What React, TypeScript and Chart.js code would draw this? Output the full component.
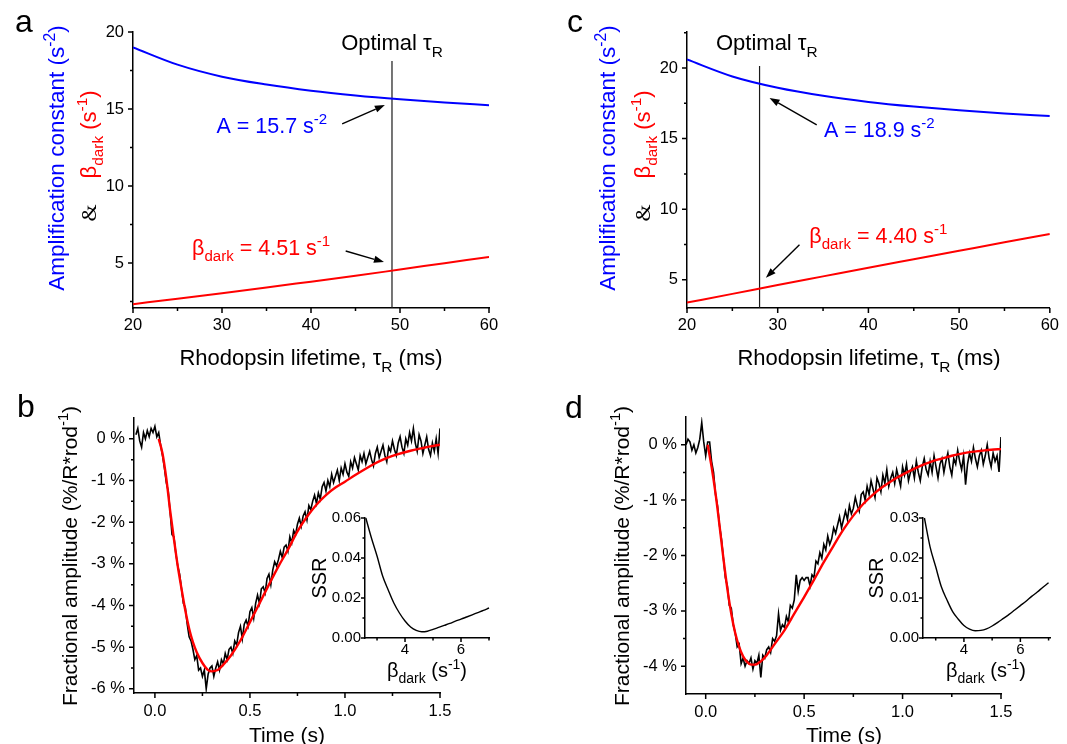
import React, { useEffect, useRef } from "react";
import { Chart, registerables } from "chart.js";
Chart.register(...registerables);

const W = 1067;
const H = 744;
const FONT = '"Liberation Sans", Arial, Helvetica, sans-serif';
const SERIF = '"Liberation Serif", "Times New Roman", serif';
const BLUE = "#0000ff";
const RED = "#ff0000";
const BLACK = "#000000";
const YW = 60;
const XH = 40;

// ---------- Panel a / c : amplification & beta_dark vs rhodopsin lifetime ----------
const TAU = [20, 25, 30, 35, 40, 45, 50, 55, 60];
const A_AMP = [19.0, 17.88, 17.1, 16.59, 16.19, 15.88, 15.63, 15.42, 15.25];
const A_BETA = [2.33, 2.68, 3.04, 3.41, 3.79, 4.17, 4.58, 4.99, 5.4];
const A_OPT = [49.1];
const C_AMP = [20.6, 19.4, 18.6, 18.03, 17.6, 17.27, 17.0, 16.78, 16.6];
const C_BETA = [3.38, 4.0, 4.63, 5.24, 5.85, 6.45, 7.05, 7.65, 8.24];
const C_OPT = [28];
const TAU_TICKS = [20, 30, 40, 50, 60];
const TAU_MINOR = [25, 35, 45, 55];
const AC_Y_TICKS = [5, 10, 15, 20];
const A_Y_MINOR = [2.5, 7.5, 12.5, 17.5];
const C_Y_MINOR = [7.5, 12.5, 17.5, 22.5];

// ---------- Panel b / d : flash responses ----------
const TIME = [
  -0.1, -0.09, -0.08, -0.07, -0.06, -0.05, -0.04, -0.03, -0.02, -0.01,
  0.0, 0.01, 0.02, 0.03, 0.04, 0.05, 0.06, 0.07, 0.08, 0.09,
  0.1, 0.11, 0.12, 0.13, 0.14, 0.15, 0.16, 0.17, 0.18, 0.19,
  0.2, 0.21, 0.22, 0.23, 0.24, 0.25, 0.26, 0.27, 0.28, 0.29,
  0.3, 0.31, 0.32, 0.33, 0.34, 0.35, 0.36, 0.37, 0.38, 0.39,
  0.4, 0.41, 0.42, 0.43, 0.44, 0.45, 0.46, 0.47, 0.48, 0.49,
  0.5, 0.51, 0.52, 0.53, 0.54, 0.55, 0.56, 0.57, 0.58, 0.59,
  0.6, 0.61, 0.62, 0.63, 0.64, 0.65, 0.66, 0.67, 0.68, 0.69,
  0.7, 0.71, 0.72, 0.73, 0.74, 0.75, 0.76, 0.77, 0.78, 0.79,
  0.8, 0.81, 0.82, 0.83, 0.84, 0.85, 0.86, 0.87, 0.88, 0.89,
  0.9, 0.91, 0.92, 0.93, 0.94, 0.95, 0.96, 0.97, 0.98, 0.99,
  1.0, 1.01, 1.02, 1.03, 1.04, 1.05, 1.06, 1.07, 1.08, 1.09,
  1.1, 1.11, 1.12, 1.13, 1.14, 1.15, 1.16, 1.17, 1.18, 1.19,
  1.2, 1.21, 1.22, 1.23, 1.24, 1.25, 1.26, 1.27, 1.28, 1.29,
  1.3, 1.31, 1.32, 1.33, 1.34, 1.35, 1.36, 1.37, 1.38, 1.39,
  1.4, 1.41, 1.42, 1.43, 1.44, 1.45, 1.46, 1.47, 1.48, 1.49,
  1.5,
];
const B_TRACE = [
  0.1, 0.25, -0.05, -0.2, 0.15, 0.0, 0.2, 0.05, 0.25, 0.15,
  0.3, 0.05, 0.15, -0.15, -0.4, -0.7, -1.05, -1.25, -1.75, -2.3,
  -2.35, -2.75, -3.05, -3.25, -3.6, -3.95, -4.05, -4.45, -4.75, -4.85,
  -5.05, -5.3, -5.2, -5.55, -5.5, -5.7, -5.55, -6.0, -5.65, -5.5,
  -5.45, -5.7, -5.5, -5.35, -5.55, -5.3, -5.4, -5.15, -5.3, -5.05,
  -5.0, -5.15, -4.85, -4.95, -4.65, -4.5, -4.8, -4.45, -4.35, -4.5,
  -4.15, -4.05, -4.3, -3.95, -3.75, -3.95, -3.6, -3.55, -3.7, -3.35,
  -3.25, -3.5, -3.15, -2.95, -3.05, -2.9, -2.7, -2.85, -2.6, -2.55,
  -2.7, -2.35, -2.5, -2.2, -2.3, -2.05, -1.9, -2.1, -1.85, -1.75,
  -1.95, -1.6, -1.7, -1.5, -1.35, -1.55, -1.3, -1.45, -1.15, -1.05,
  -1.25, -1.0, -1.15, -0.85, -1.05, -0.9, -0.75, -1.0, -0.7, -0.85,
  -0.6, -0.8, -0.9, -0.55, -0.7, -0.45, -0.6, -0.75, -0.4, -0.55,
  -0.35, -0.6, -0.45, -0.3, -0.5, -0.65, -0.35, -0.2, -0.45, -0.3,
  -0.15, -0.4, -0.55, -0.2, -0.3, -0.05, -0.25, -0.4, -0.1, 0.05,
  -0.2, -0.35, 0.0, -0.15, 0.15, -0.05, 0.25, -0.1, -0.3, 0.1,
  -0.05, -0.35, -0.15, 0.05, -0.25, -0.4, -0.1, -0.3, 0.0, -0.35,
  0.25,
];
const D_TRACE = [
  0.0, 0.1, 0.05, -0.1, 0.0, -0.15, -0.05, 0.1, 0.4, 0.05,
  -0.2, 0.05, 0.05, -0.3, -0.5, -0.9, -1.1, -1.45, -1.7, -2.05,
  -2.4, -2.55, -2.9, -2.95, -3.25, -3.4, -3.65, -3.6, -3.95, -3.85,
  -4.0, -3.9, -3.95, -3.85, -4.05, -3.9, -3.95, -3.8, -4.2, -3.8,
  -3.85, -3.7, -3.65, -3.75, -3.5, -3.55, -3.45, -3.05, -3.35, -3.25,
  -3.3, -3.1, -3.2, -2.9, -2.95, -2.8, -2.35, -2.65, -2.45, -2.4,
  -2.45, -2.4, -2.4, -2.55, -2.35, -2.4, -2.1, -2.15, -1.95, -2.05,
  -1.8, -1.9, -1.65, -1.8, -1.7, -1.5, -1.6, -1.45, -1.3, -1.5,
  -1.35, -1.2, -1.35, -1.1, -1.25, -1.15, -0.95, -1.1, -1.2, -0.9,
  -0.85, -1.0, -0.75, -0.9, -0.65, -0.8, -0.95, -0.6, -0.7, -0.85,
  -0.55, -0.7, -0.45, -0.75, -0.6, -0.5, -0.7, -0.45, -0.6, -0.75,
  -0.4, -0.55, -0.35, -0.65, -0.5, -0.4, -0.6, -0.3, -0.5, -0.65,
  -0.4, -0.25, -0.45, -0.55, -0.3, -0.5, -0.2, -0.4, -0.6, -0.35,
  -0.25, -0.5, -0.3, -0.15, -0.4, -0.55, -0.25, -0.35, -0.1, -0.3,
  -0.45, -0.2, -0.72, -0.35, -0.15, -0.3, -0.05, -0.25, -0.4, -0.2,
  -0.1, -0.35, -0.2, 0.0, -0.25, -0.4, -0.15, -0.3, -0.2, -0.49,
  0.14,
];
const B_FIT_T = [
  0.02, 0.04, 0.06, 0.08, 0.1, 0.12, 0.14, 0.16, 0.18, 0.2, 0.22, 0.25, 0.28, 0.3, 0.33, 0.36, 0.4,
  0.45, 0.5, 0.55, 0.6, 0.65, 0.7, 0.75, 0.8, 0.85, 0.9, 0.95, 1.0, 1.05, 1.1, 1.15, 1.2, 1.25, 1.3,
  1.35, 1.4, 1.45, 1.5,
];
const B_FIT_V = [
  0, -0.35, -0.95, -1.72, -2.4, -3.05, -3.6, -4.12, -4.55, -4.88, -5.12, -5.38, -5.55, -5.58, -5.55,
  -5.42, -5.2, -4.84, -4.4, -3.95, -3.5, -3.06, -2.66, -2.22, -1.87, -1.58, -1.35, -1.17, -1.03, -0.88,
  -0.74, -0.61, -0.5, -0.41, -0.34, -0.28, -0.23, -0.18, -0.14,
];
const D_FIT_T = [
  0.01, 0.03, 0.05, 0.07, 0.09, 0.11, 0.13, 0.15, 0.17, 0.19, 0.21, 0.23, 0.25, 0.28, 0.31, 0.35,
  0.4, 0.45, 0.5, 0.55, 0.6, 0.65, 0.7, 0.75, 0.8, 0.85, 0.9, 0.95, 1.0, 1.05, 1.1, 1.15, 1.2, 1.25,
  1.3, 1.35, 1.4, 1.45, 1.5,
];
const D_FIT_V = [
  0, -0.4, -0.88, -1.45, -2.05, -2.6, -3.05, -3.4, -3.65, -3.82, -3.92, -3.97, -3.97, -3.91, -3.8,
  -3.6, -3.35, -3.05, -2.75, -2.44, -2.12, -1.82, -1.53, -1.28, -1.07, -0.9, -0.76, -0.64, -0.54,
  -0.45, -0.37, -0.3, -0.25, -0.2, -0.16, -0.13, -0.11, -0.09, -0.08,
];
const T_TICKS = [0, 0.5, 1.0, 1.5];
const T_MINOR = [0.25, 0.75, 1.25];
const B_Y_TICKS = [0, -1, -2, -3, -4, -5, -6];
const B_Y_MINOR = [-0.5, -1.5, -2.5, -3.5, -4.5, -5.5];
const D_Y_TICKS = [0, -1, -2, -3, -4];
const D_Y_MINOR = [-0.5, -1.5, -2.5, -3.5];

// ---------- Insets : SSR vs beta_dark ----------
const SSR_BETA = [2.6, 2.8, 3.0, 3.2, 3.4, 3.6, 3.8, 4.0, 4.2, 4.4, 4.6, 4.8, 5.0, 5.2, 5.4, 5.6, 5.8, 6.0, 6.2, 6.4, 6.6, 6.8, 7.0];
const B_SSR = [0.06, 0.05, 0.041, 0.031, 0.024, 0.0175, 0.0125, 0.0085, 0.0055, 0.0038, 0.0031, 0.0034, 0.0043, 0.0053, 0.0063, 0.0073, 0.0084, 0.0094, 0.0105, 0.0116, 0.0127, 0.0138, 0.015];
const D_SSR = [0.03, 0.0228, 0.0178, 0.0128, 0.0095, 0.0066, 0.0047, 0.0031, 0.0022, 0.0018, 0.0019, 0.0023, 0.003, 0.0039, 0.0049, 0.0059, 0.007, 0.0081, 0.0092, 0.0104, 0.0115, 0.0127, 0.0138];
const INSET_X_TICKS = [4, 6];
const INSET_X_MINOR = [3, 5, 7];
const B_SSR_TICKS = [0, 0.02, 0.04, 0.06];
const B_SSR_MINOR = [0.01, 0.03, 0.05];
const D_SSR_TICKS = [0, 0.01, 0.02, 0.03];
const D_SSR_MINOR = [0.005, 0.015, 0.025];

// ---------- rich text helpers ----------
type Seg = { t?: string; c?: string; s?: "sub" | "sup"; gap?: number; font?: string };
type TextItem = { segs: Seg[]; x: number; y: number; size: number; align?: "left" | "center" | "right"; rot?: number; data?: boolean };
type Arrow = { x1: number; y1: number; x2: number; y2: number };
type Decor = {
  xMajor: number[]; xMinor: number[]; yMajor: number[]; yMinor: number[];
  major: number; minor: number; texts: TextItem[]; arrows?: Arrow[];
};

function segFont(size: number, s: Seg) {
  const sz = s.s ? size * 0.7 : size;
  return `${sz}px ${s.font || FONT}`;
}
function richWidth(ctx: CanvasRenderingContext2D, segs: Seg[], size: number) {
  let w = 0;
  for (const s of segs) {
    if (s.gap) { w += s.gap; continue; }
    ctx.font = segFont(size, s);
    w += ctx.measureText(s.t || "").width;
  }
  return w;
}
function drawRich(ctx: CanvasRenderingContext2D, item: TextItem, px: number, py: number) {
  const { segs, size, align = "center", rot = 0 } = item;
  ctx.save();
  ctx.translate(px, py);
  ctx.rotate(rot);
  ctx.textBaseline = "alphabetic";
  ctx.textAlign = "left";
  const w = richWidth(ctx, segs, size);
  let cx = align === "center" ? -w / 2 : align === "right" ? -w : 0;
  for (const s of segs) {
    if (s.gap) { cx += s.gap; continue; }
    ctx.font = segFont(size, s);
    ctx.fillStyle = s.c || BLACK;
    const dy = s.s === "sub" ? size * 0.3 : s.s === "sup" ? -size * 0.42 : 0;
    ctx.fillText(s.t || "", cx, dy);
    cx += ctx.measureText(s.t || "").width;
  }
  ctx.restore();
}
function drawArrow(ctx: CanvasRenderingContext2D, x1: number, y1: number, x2: number, y2: number) {
  const ang = Math.atan2(y2 - y1, x2 - x1);
  const hl = 10;
  const hw = 3.6;
  const bx = x2 - hl * Math.cos(ang);
  const by = y2 - hl * Math.sin(ang);
  ctx.beginPath();
  ctx.moveTo(x1, y1);
  ctx.lineTo(bx, by);
  ctx.stroke();
  ctx.beginPath();
  ctx.moveTo(x2, y2);
  ctx.lineTo(bx + hw * Math.sin(ang), by - hw * Math.cos(ang));
  ctx.lineTo(bx - hw * Math.sin(ang), by + hw * Math.cos(ang));
  ctx.closePath();
  ctx.fill();
}

function decorPlugin(d: Decor) {
  return {
    id: "decor",
    afterDraw(chart: any) {
      const ctx: CanvasRenderingContext2D = chart.ctx;
      const a = chart.chartArea;
      const xs = chart.scales.x;
      const ys = chart.scales.y;
      ctx.save();
      ctx.strokeStyle = BLACK;
      ctx.fillStyle = BLACK;
      ctx.lineWidth = 1.5;
      ctx.beginPath();
      const xt = (vals: number[], len: number) => {
        for (const v of vals) {
          const p = xs.getPixelForValue(v);
          ctx.moveTo(p, a.bottom);
          ctx.lineTo(p, a.bottom + len);
        }
      };
      const yt = (vals: number[], len: number) => {
        for (const v of vals) {
          const p = ys.getPixelForValue(v);
          ctx.moveTo(a.left, p);
          ctx.lineTo(a.left - len, p);
        }
      };
      xt(d.xMajor, d.major);
      xt(d.xMinor, d.minor);
      yt(d.yMajor, d.major);
      yt(d.yMinor, d.minor);
      ctx.stroke();
      ctx.lineWidth = 1.4;
      for (const ar of d.arrows || []) {
        drawArrow(ctx, xs.getPixelForValue(ar.x1), ys.getPixelForValue(ar.y1), xs.getPixelForValue(ar.x2), ys.getPixelForValue(ar.y2));
      }
      for (const t of d.texts) {
        const px = t.data ? xs.getPixelForValue(t.x) : t.x;
        const py = t.data ? ys.getPixelForValue(t.y) : t.y;
        drawRich(ctx, t, px, py);
      }
      ctx.restore();
    },
  };
}

function scale(min: number, max: number, ticks: number[], fmt: (v: number) => string, size: number, pad: number, isX: boolean) {
  return {
    type: "linear",
    min,
    max,
    afterBuildTicks: (s: any) => {
      s.ticks = ticks.map((v) => ({ value: v }));
    },
    afterFit: (s: any) => {
      if (isX) s.height = XH;
      else s.width = YW;
    },
    grid: { display: false, drawTicks: false },
    border: { display: true, color: BLACK, width: 1.5 },
    ticks: {
      color: BLACK,
      font: { family: FONT, size },
      padding: pad,
      autoSkip: false,
      maxRotation: 0,
      minRotation: 0,
      callback: (v: any) => fmt(Number(v)),
    },
  };
}

type Area = { l: number; t: number; r: number; b: number };
function config(datasets: any[], area: Area, xScale: any, yScale: any, dec: Decor) {
  return {
    type: "line",
    data: { datasets },
    options: {
      responsive: false,
      animation: false,
      devicePixelRatio: 1,
      events: [],
      layout: { padding: { left: area.l - YW, top: area.t, right: W - area.r, bottom: H - area.b - XH } },
      plugins: { legend: { display: false }, tooltip: { enabled: false } },
      scales: { x: xScale, y: yScale },
      elements: { point: { radius: 0 } },
    },
    plugins: [decorPlugin(dec)],
  };
}

const xy = (xs: number[], ys: number[]) => xs.map((x, i) => ({ x, y: ys[i] }));
const str = (v: number) => String(v);
const f1 = (v: number) => v.toFixed(1);
const f2 = (v: number) => v.toFixed(2);
const pct = (v: number) => `${v} %`;
const ROT = -Math.PI / 2;

const betaSegs = (): Seg[] => [{ t: "β" }, { t: "dark", s: "sub" }, { t: " (s" }, { t: "-1", s: "sup" }, { t: ")" }];
const ampTitle = (): Seg[] => [{ t: "Amplification constant (s", c: BLUE }, { t: "-2", c: BLUE, s: "sup" }, { t: ")", c: BLUE }];
const andBetaTitle = (): Seg[] => [{ t: "&", font: SERIF }, { gap: 26 }, { t: "β", c: RED }, { t: "dark", c: RED, s: "sub" }, { t: " (s", c: RED }, { t: "-1", c: RED, s: "sup" }, { t: ")", c: RED }];
const tauTitle = (): Seg[] => [{ t: "Rhodopsin lifetime, τ" }, { t: "R", s: "sub" }, { t: " (ms)" }];
const optTitle = (): Seg[] => [{ t: "Optimal τ" }, { t: "R", s: "sub" }];

function makeA() {
  const datasets = [
    { data: xy(TAU, A_AMP), borderColor: BLUE, borderWidth: 2, cubicInterpolationMode: "monotone", pointRadius: 0 },
    { data: xy(TAU, A_BETA), borderColor: RED, borderWidth: 2, cubicInterpolationMode: "monotone", pointRadius: 0 },
    { data: [{ x: A_OPT[0], y: 2.08 }, { x: A_OPT[0], y: 18.12 }], borderColor: "#1a1a1a", borderWidth: 1.2, pointRadius: 0 },
  ];
  return config(
    datasets,
    { l: 133, t: 32, r: 489, b: 308 },
    scale(20, 60, TAU_TICKS, str, 16.5, 8, true),
    scale(2.08, 20, AC_Y_TICKS, str, 16.5, 9, false),
    {
      xMajor: TAU_TICKS, xMinor: TAU_MINOR, yMajor: AC_Y_TICKS, yMinor: A_Y_MINOR, major: 5, minor: 3,
      arrows: [
        { x1: 43.5, y1: 14.03, x2: 48.3, y2: 15.26 },
        { x1: 43.9, y1: 5.78, x2: 48.2, y2: 5.06 },
      ],
      texts: [
        { segs: [{ t: "a" }], x: 15, y: 32, size: 32, align: "left" },
        { segs: ampTitle(), x: 64, y: 158, size: 22.5, rot: ROT },
        { segs: andBetaTitle(), x: 96, y: 156, size: 22, rot: ROT },
        { segs: tauTitle(), x: 311, y: 365, size: 22 },
        { segs: optTitle(), x: 49.1, y: 18.83, size: 22, data: true },
        { segs: [{ t: "A = 15.7 s", c: BLUE }, { t: "-2", c: BLUE, s: "sup" }], x: 35.6, y: 13.44, size: 21.5, data: true },
        { segs: [{ t: "β", c: RED }, { t: "dark", c: RED, s: "sub" }, { t: " = 4.51 s", c: RED }, { t: "-1", c: RED, s: "sup" }], x: 34.4, y: 5.52, size: 21.5, data: true },
      ],
    }
  );
}

function makeC() {
  const datasets = [
    { data: xy(TAU, C_AMP), borderColor: BLUE, borderWidth: 2, cubicInterpolationMode: "monotone", pointRadius: 0 },
    { data: xy(TAU, C_BETA), borderColor: RED, borderWidth: 2, cubicInterpolationMode: "monotone", pointRadius: 0 },
    { data: [{ x: C_OPT[0], y: 3.0 }, { x: C_OPT[0], y: 20.14 }], borderColor: "#1a1a1a", borderWidth: 1.2, pointRadius: 0 },
  ];
  return config(
    datasets,
    { l: 687, t: 32, r: 1051, b: 308 },
    scale(20, 60, TAU_TICKS, str, 16.5, 8, true),
    scale(3.0, 22.55, AC_Y_TICKS, str, 16.5, 9, false),
    {
      xMajor: TAU_TICKS, xMinor: TAU_MINOR, yMajor: AC_Y_TICKS, yMinor: C_Y_MINOR, major: 5, minor: 3,
      arrows: [
        { x1: 34.3, y1: 15.97, x2: 29.1, y2: 17.88 },
        { x1: 32.4, y1: 7.48, x2: 28.7, y2: 5.14 },
      ],
      texts: [
        { segs: [{ t: "c" }], x: 567, y: 32, size: 32, align: "left" },
        { segs: ampTitle(), x: 615, y: 158, size: 22.5, rot: ROT },
        { segs: andBetaTitle(), x: 650, y: 156, size: 22, rot: ROT },
        { segs: tauTitle(), x: 869, y: 365, size: 22 },
        { segs: optTitle(), x: 28.8, y: 21.28, size: 22, data: true },
        { segs: [{ t: "A = 18.9 s", c: BLUE }, { t: "-2", c: BLUE, s: "sup" }], x: 41.2, y: 15.12, size: 21.5, data: true },
        { segs: [{ t: "β", c: RED }, { t: "dark", c: RED, s: "sub" }, { t: " = 4.40 s", c: RED }, { t: "-1", c: RED, s: "sup" }], x: 41.1, y: 7.62, size: 21.5, data: true },
      ],
    }
  );
}

function makeTrace(letter: string, trace: number[], fitT: number[], fitV: number[], area: Area, xmin: number, ymin: number, yTicks: number[], yMinor: number[], letterPos: number[], yTitleX: number, xTitleX: number) {
  const datasets = [
    { data: xy(fitT, fitV), borderColor: RED, borderWidth: 2.4, cubicInterpolationMode: "monotone", pointRadius: 0 },
    { data: xy(TIME, trace), borderColor: BLACK, borderWidth: 1.6, tension: 0, pointRadius: 0 },
  ];
  return config(
    datasets,
    area,
    scale(xmin, 1.5, T_TICKS, f1, 16.5, 9, true),
    scale(ymin, 0.5, yTicks, pct, 16.5, 9, false),
    {
      xMajor: T_TICKS, xMinor: T_MINOR, yMajor: yTicks, yMinor, major: 5, minor: 3,
      texts: [
        { segs: [{ t: letter }], x: letterPos[0], y: letterPos[1], size: 32, align: "left" },
        { segs: [{ t: "Fractional amplitude (%/R*rod" }, { t: "-1", s: "sup" }, { t: ")" }], x: yTitleX, y: 556, size: 21, rot: ROT },
        { segs: [{ t: "Time (s)" }], x: xTitleX, y: 742, size: 21 },
      ],
    }
  );
}

function makeInset(ssr: number[], area: Area, xmin: number, xmax: number, ymax: number, yTicks: number[], yMinor: number[], ssrX: number, titleX: number) {
  const datasets = [
    { data: xy(SSR_BETA, ssr), borderColor: BLACK, borderWidth: 1.4, cubicInterpolationMode: "monotone", pointRadius: 0, clip: 4 },
  ];
  return config(
    datasets,
    area,
    scale(xmin, xmax, INSET_X_TICKS, str, 15, 3, true),
    scale(0, ymax, yTicks, f2, 15, 4, false),
    {
      xMajor: INSET_X_TICKS, xMinor: INSET_X_MINOR, yMajor: yTicks, yMinor, major: 4, minor: 2.5,
      texts: [
        { segs: [{ t: "SSR" }], x: ssrX, y: 578, size: 20, rot: ROT },
        { segs: betaSegs(), x: titleX, y: 677, size: 20 },
      ],
    }
  );
}

const MAKERS = [
  makeA,
  makeC,
  () => makeTrace("b", B_TRACE, B_FIT_T, B_FIT_V, { l: 134, t: 418, r: 440, b: 693 }, -0.11, -6.1, B_Y_TICKS, B_Y_MINOR, [17, 417], 76.5, 287),
  () => makeTrace("d", D_TRACE, D_FIT_T, D_FIT_V, { l: 686, t: 417, r: 1001, b: 694 }, -0.1, -4.5, D_Y_TICKS, D_Y_MINOR, [565, 418], 628.5, 844),
  () => makeInset(B_SSR, { l: 365, t: 518, r: 489, b: 638 }, 2.57, 7.0, 0.06, B_SSR_TICKS, B_SSR_MINOR, 326, 427),
  () => makeInset(D_SSR, { l: 923, t: 518, r: 1050, b: 638 }, 2.55, 7.05, 0.03, D_SSR_TICKS, D_SSR_MINOR, 883, 986),
];

function ChartCanvas({ make }: { make: () => any }) {
  const ref = useRef<HTMLCanvasElement>(null);
  useEffect(() => {
    const chart = new Chart(ref.current as HTMLCanvasElement, make());
    return () => chart.destroy();
  }, []);
  return (
    <canvas
      ref={ref}
      width={W}
      height={H}
      style={{ position: "absolute", left: 0, top: 0, width: W, height: H }}
    />
  );
}

export default function App() {
  return (
    <div style={{ position: "absolute", left: 0, top: 0, width: W, height: H, background: "#ffffff", overflow: "hidden" }}>
      {MAKERS.map((m, i) => (
        <ChartCanvas key={i} make={m} />
      ))}
    </div>
  );
}
